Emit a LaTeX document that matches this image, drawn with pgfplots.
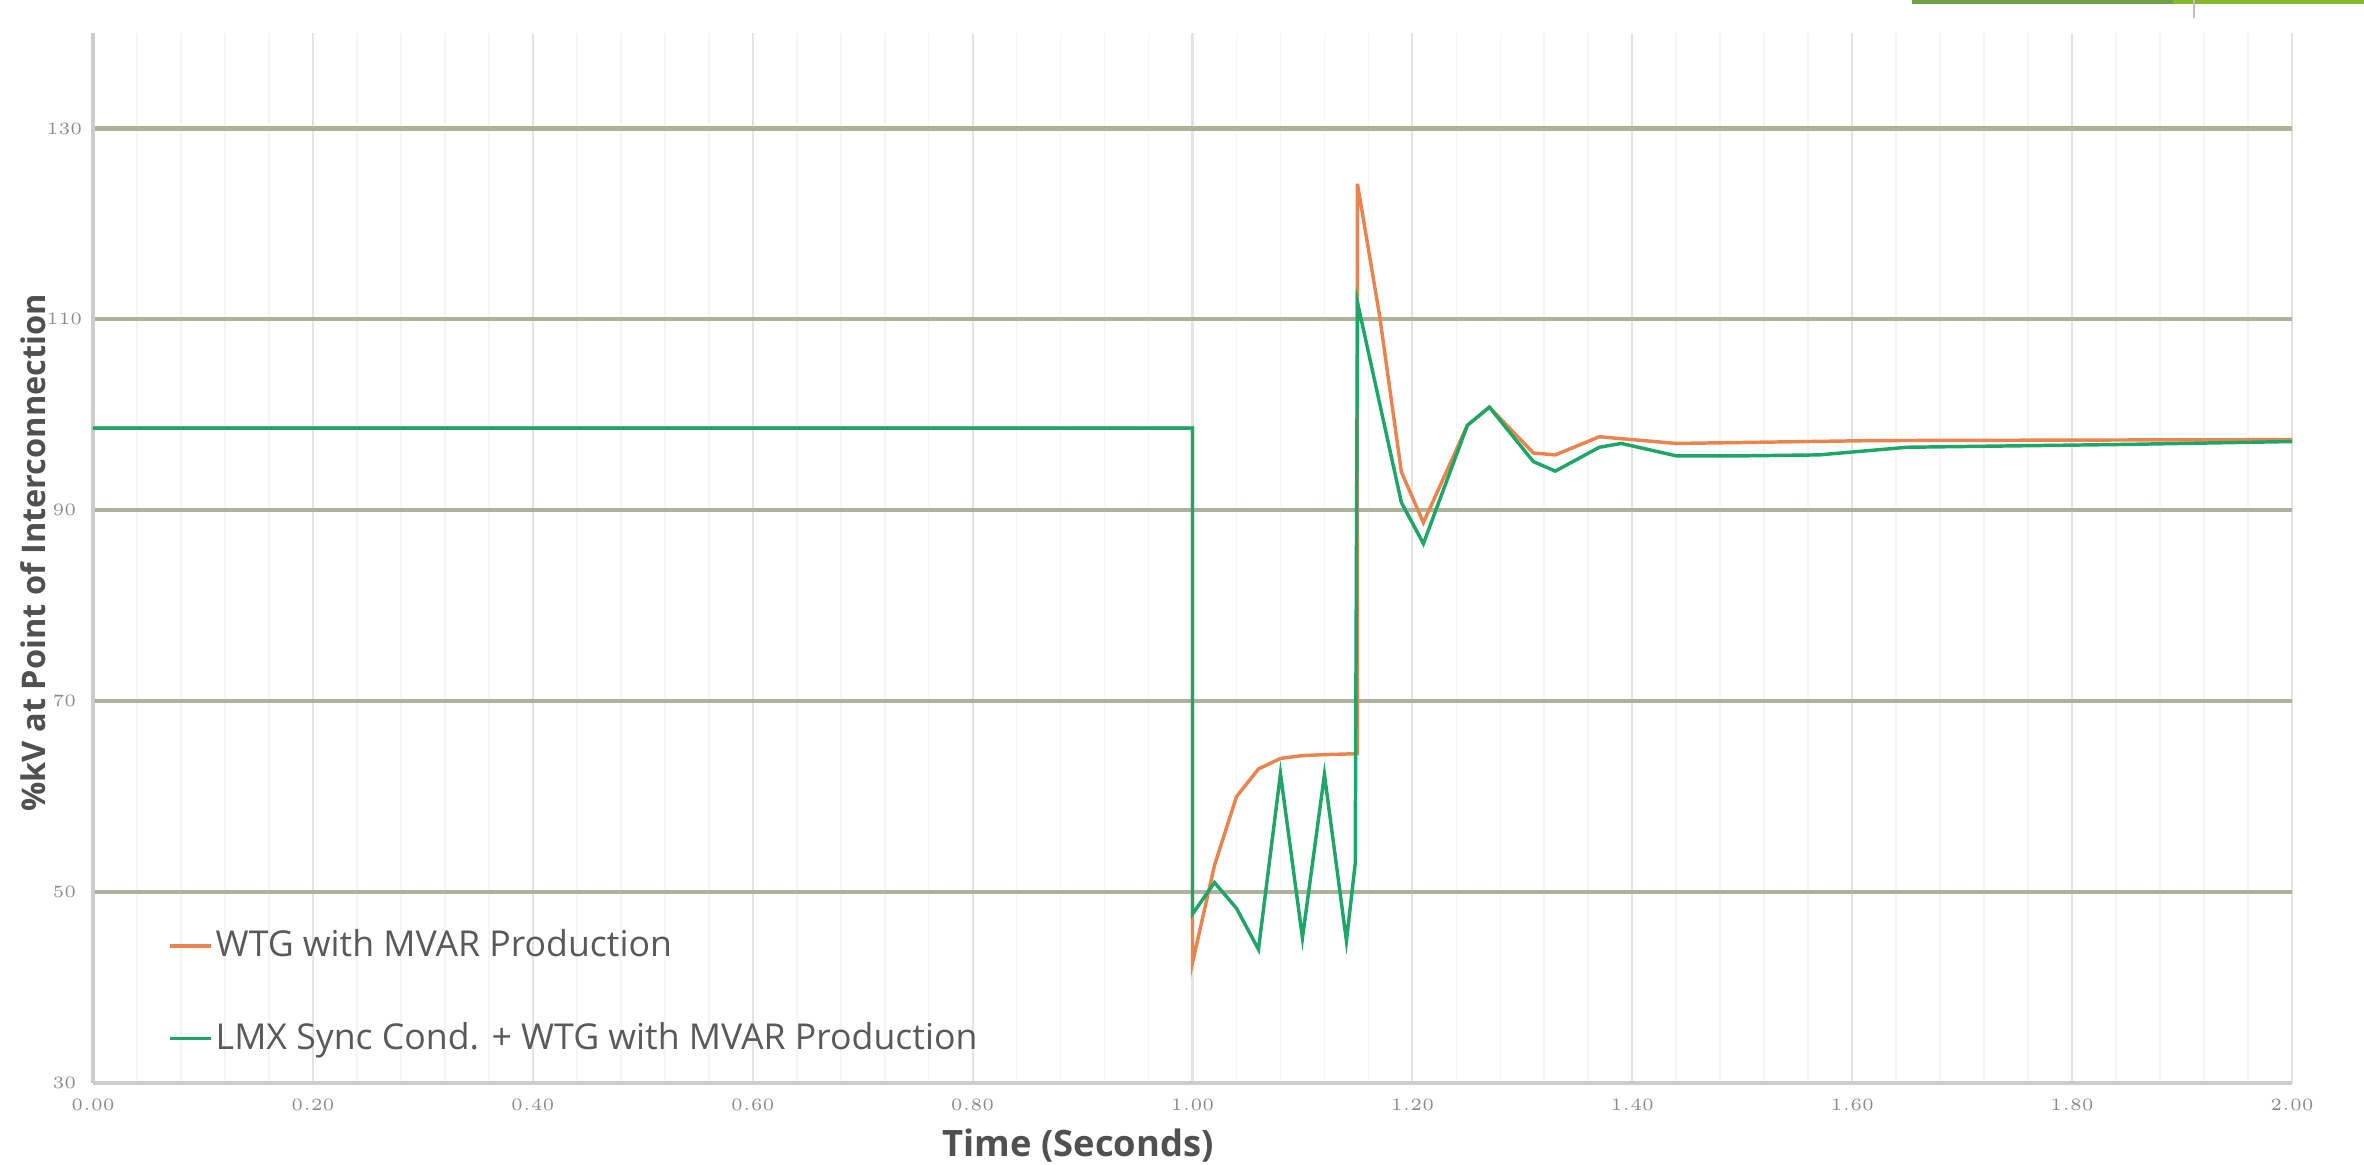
\documentclass[border=0pt]{standalone}
\usepackage{pgfplots}
\pgfplotsset{compat=1.18}
\usepackage{fontspec}
\setmainfont{Open Sans}
\definecolor{wtg}{RGB}{234,132,78}
\definecolor{lmx}{RGB}{30,166,104}
\definecolor{hgrid}{RGB}{174,177,156}
\definecolor{txt}{RGB}{80,80,80}
\begin{document}
\begin{tikzpicture}
\useasboundingbox (-0.944,-0.832) rectangle (23.056,10.995);
% decorative bar at top right
\fill[fill={rgb,255:red,112;green,160;blue,70}] (18.47,10.955) rectangle (21.12,10.995);
\fill[fill={rgb,255:red,132;green,182;blue,50}] (21.12,10.955) rectangle (23.056,10.995);
\draw[black!25, line width=0.4pt] (21.33,10.995) -- (21.33,10.81);
\begin{axis}[
  scale only axis,
  width=22.325cm, height=10.66cm,
  xmin=0, xmax=2, ymin=30, ymax=140,
  axis x line*=bottom, axis y line*=left,
  axis line style={draw=black!20, line width=1pt},
  xtick={0,0.2,0.4,0.6,0.8,1.0,1.2,1.4,1.6,1.8,2.0},
  minor x tick num=4,
  ytick={50,70,90,110,130},
  extra y ticks={30}, extra y tick style={grid=none},
  xmajorgrids, xminorgrids, ymajorgrids,
  major x grid style={draw=black!11, line width=0.6pt},
  minor x grid style={draw=black!4, line width=0.5pt},
  major y grid style={draw=hgrid, line width=1.2pt},
  major tick length=0pt, minor tick length=0pt,
  tick label style={font=\fontsize{5}{6}\selectfont, text=black!45},
  xticklabel style={anchor=center, yshift=-0.22cm,
    /pgf/number format/.cd, fixed, fixed zerofill, precision=2},
  yticklabel style={anchor=center, xshift=-0.29cm},
  xlabel={Time (Seconds)},
  ylabel={\%kV at Point of Interconnection},
  xlabel style={at={(axis description cs:0.448,-0.060)}, anchor=center,
    font=\fontsize{10.5}{12}\selectfont\bfseries, text=txt},
  ylabel style={at={(axis description cs:-0.0273,0.505)}, anchor=center, rotate=0,
    font=\fontsize{9.4}{12}\selectfont\bfseries, text=txt},
  legend style={at={(axis description cs:0.034,0.02)}, anchor=south west,
    draw=none, fill=none, row sep=0.47cm, inner sep=0pt,
    font=\fontsize{10.3}{12}\selectfont, text=black!65,
    nodes={inner xsep=1pt}},
  legend cell align=left,
  legend image code/.code={\draw[#1] (0cm,0cm) -- (0.41cm,0cm);},
]
\addplot[wtg, line width=1pt] coordinates {
(0,98.6) (1.00,98.6) (1.00,42.6) (1.02,52.8) (1.04,60.0) (1.06,62.9) (1.08,64.0)
(1.10,64.3) (1.12,64.4) (1.15,64.5) (1.15,124.2) (1.17,110.5) (1.19,94.0) (1.21,88.7)
(1.25,98.9) (1.27,100.8) (1.31,96.0) (1.33,95.8) (1.37,97.7) (1.40,97.4) (1.44,97.0)
(1.50,97.1) (1.62,97.3) (1.80,97.35) (2.00,97.4)
};
\addlegendentry{WTG with MVAR Production}
\addplot[lmx, line width=1pt] coordinates {
(0,98.6) (1.00,98.6) (1.00,47.7) (1.02,51.0) (1.04,48.3) (1.06,44.0) (1.08,62.4)
(1.10,45.2) (1.12,62.3) (1.14,44.9) (1.148,53.0) (1.15,111.8) (1.19,90.8) (1.21,86.5)
(1.25,98.9) (1.27,100.8) (1.31,95.1) (1.33,94.1) (1.37,96.6) (1.39,97.0) (1.44,95.7)
(1.50,95.7) (1.57,95.8) (1.65,96.6) (1.85,96.9) (2.00,97.2)
};
\addlegendentry{LMX Sync Cond. + WTG with MVAR Production}
\end{axis}
\end{tikzpicture}
\end{document}
